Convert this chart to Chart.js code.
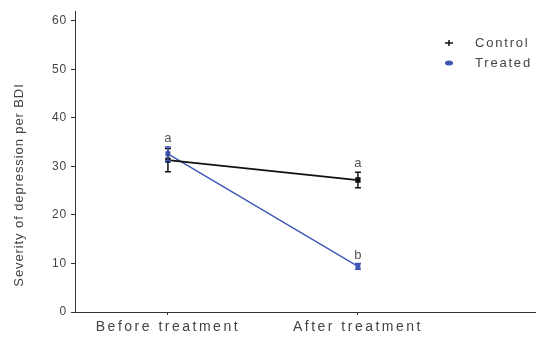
<!DOCTYPE html>
<html>
<head>
<meta charset="utf-8">
<script src="https://cdn.jsdelivr.net/npm/chart.js@4"></script>
<style>
  html, body { margin: 0; padding: 0; background: #fff; }
  #wrap { width: 536px; height: 338px; position: relative; }
</style>
</head>
<body>
<div id="wrap"><canvas id="c" width="536" height="338"></canvas></div>
<script>
// Time points on the x axis
const categories = ['Before treatment', 'After treatment'];
// Mean BDI scores per group
const controlMeans = [31.3, 27.2];
const treatedMeans = [32.6, 9.4];
// Standard errors (drawn as whiskers)
const controlErr = [2.4, 1.6];
const treatedErr = [1.4, 0.6];
// Significance letters above each group
const controlLetters = ['', 'a'];
const treatedLetters = ['a', 'b'];
const yTicks = [0, 10, 20, 30, 40, 50, 60];
const yTitle = 'Severity of depression per BDI';

const FONT = "'Liberation Sans', Arial, sans-serif";
const TXT = '#444';

// Draw a scale's labels with extra letter spacing
function spacedLabels(scale, px) {
  if (scale._spaced) return;
  scale._spaced = true;
  const orig = scale.drawLabels;
  scale.drawLabels = function (area) {
    const prev = this.ctx.letterSpacing;
    this.ctx.letterSpacing = px;
    orig.call(this, area);
    this.ctx.letterSpacing = prev;
  };
}

// Whiskers, letters, axis title and legend drawn with the chart's own scales
const extras = {
  id: 'extras',
  afterDatasetsDraw(chart) {
    const ctx = chart.ctx;
    const xs = chart.scales.x, ys = chart.scales.y;
    const errs = [controlErr, treatedErr];
    ctx.save();
    chart.data.datasets.forEach((ds, di) => {
      ctx.strokeStyle = ds.borderColor;
      ctx.lineWidth = 1.5;
      ds.data.forEach((p, i) => {
        const x = xs.getPixelForValue(p.x);
        const top = ys.getPixelForValue(p.y + errs[di][i]);
        const bot = ys.getPixelForValue(p.y - errs[di][i]);
        ctx.beginPath();
        ctx.moveTo(x, top); ctx.lineTo(x, bot);
        ctx.moveTo(x - 3, top); ctx.lineTo(x + 3, top);
        ctx.moveTo(x - 3, bot); ctx.lineTo(x + 3, bot);
        ctx.stroke();
      });
    });
    // letters
    ctx.letterSpacing = '0px';
    ctx.font = '13px ' + FONT;
    ctx.fillStyle = '#555';
    ctx.textAlign = 'center';
    ctx.textBaseline = 'bottom';
    const lettersets = [controlLetters, treatedLetters];
    chart.data.datasets.forEach((ds, di) => {
      ds.data.forEach((p, i) => {
        const l = lettersets[di][i];
        if (!l) return;
        const x = xs.getPixelForValue(p.x);
        const y = ys.getPixelForValue(p.y + errs[di][i]);
        ctx.fillText(l, x, y - 2);
      });
    });
    // y axis title
    ctx.save();
    ctx.translate(19, 185);
    ctx.rotate(-Math.PI / 2);
    ctx.letterSpacing = '0.9px';
    ctx.font = '13px ' + FONT;
    ctx.fillStyle = TXT;
    ctx.textAlign = 'center';
    ctx.textBaseline = 'middle';
    ctx.fillText(yTitle, 0, 0);
    ctx.restore();
    // legend
    const lx = 449, ly0 = 43, step = 20;
    ctx.textAlign = 'left';
    ctx.textBaseline = 'middle';
    ctx.letterSpacing = '1.8px';
    ctx.font = '13px ' + FONT;
    chart.data.datasets.forEach((ds, di) => {
      const y = ly0 + di * step;
      ctx.strokeStyle = ds.borderColor;
      ctx.fillStyle = ds.borderColor;
      ctx.lineWidth = 1.5;
      ctx.beginPath();
      ctx.moveTo(lx - 4, y); ctx.lineTo(lx + 4, y);
      ctx.stroke();
      ctx.beginPath();
      if (di === 0) {
        ctx.moveTo(lx, y - 3); ctx.lineTo(lx, y + 3); ctx.stroke();
      } else {
        ctx.ellipse(lx, y, 4, 2.5, 0, 0, Math.PI * 2); ctx.fill();
      }
      ctx.fillStyle = TXT;
      ctx.fillText(ds.label, lx + 26, y);
    });
    ctx.restore();
  }
};

const toPts = arr => arr.map((v, i) => ({ x: i, y: v }));

new Chart(document.getElementById('c'), {
  type: 'line',
  data: {
    datasets: [
      {
        label: 'Control',
        data: toPts(controlMeans),
        borderColor: '#111',
        backgroundColor: '#111',
        borderWidth: 1.8,
        pointRadius: 2.5,
        pointStyle: 'rect'
      },
      {
        label: 'Treated',
        data: toPts(treatedMeans),
        borderColor: '#3f58b5',
        backgroundColor: '#3f58b5',
        borderWidth: 1.4,
        pointRadius: 2.5,
        pointStyle: 'rect'
      }
    ]
  },
  options: {
    responsive: false,
    animation: false,
    layout: { autoPadding: false, padding: { top: 11, right: 0, bottom: 0, left: 0 } },
    plugins: { legend: { display: false }, tooltip: { enabled: false } },
    scales: {
      x: {
        type: 'linear',
        min: -0.489,
        max: 1.937,
        afterBuildTicks: s => { s.ticks = categories.map((c, i) => ({ value: i })); },
        afterFit: s => { s.height = 26; spacedLabels(s, '2.5px'); },
        ticks: {
          callback: v => categories[v],
          color: TXT,
          font: { family: FONT, size: 14 },
          padding: 4,
          maxRotation: 0
        },
        grid: { drawOnChartArea: false, drawTicks: true, tickLength: 3, color: '#333' },
        border: { display: true, color: '#333', width: 1 }
      },
      y: {
        min: 0,
        max: 62,
        afterBuildTicks: s => { s.ticks = yTicks.map(v => ({ value: v })); },
        afterFit: s => { s.width = 75; spacedLabels(s, '0.8px'); },
        ticks: {
          color: TXT,
          font: { family: FONT, size: 12 },
          padding: 4
        },
        grid: { drawOnChartArea: false, drawTicks: true, tickLength: 4, color: '#333' },
        border: { display: true, color: '#333', width: 1 }
      }
    }
  },
  plugins: [extras]
});
</script>
</body>
</html>
